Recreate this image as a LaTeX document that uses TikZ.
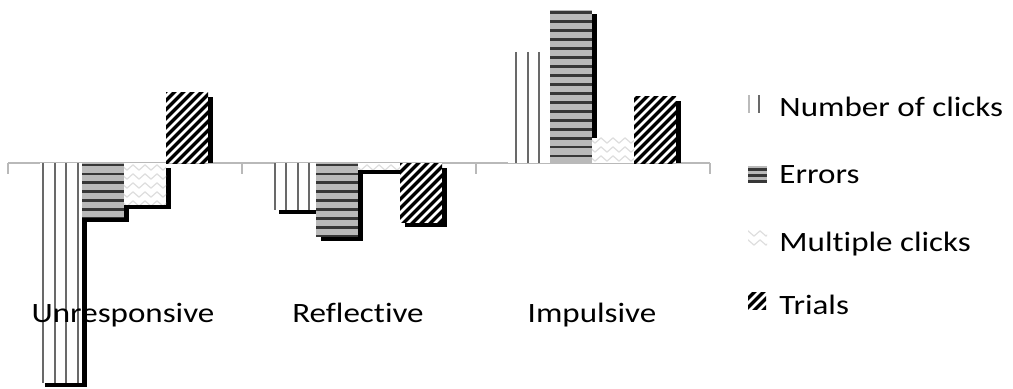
\documentclass[tikz,border=0pt]{standalone}
\usepackage{fontspec}
\setmainfont{Carlito}[Ligatures=NoCommon]
\usetikzlibrary{decorations.pathmorphing}
\definecolor{axisgray}{RGB}{185,185,185}
\definecolor{clickgray}{RGB}{105,105,105}
\definecolor{errfill}{RGB}{185,185,185}
\definecolor{errline}{RGB}{55,55,55}
\definecolor{multigray}{RGB}{222,222,222}

\begin{document}
\begin{tikzpicture}
[x=0.5pt,y=0.5pt,
 txt/.style={font=\fontsize{14}{16}\selectfont,xscale=1.18,inner sep=0pt},
 shadow/.style={fill=black},
 clickline/.style={draw=clickgray,line width=1pt},
 errline/.style={draw=errline,line width=1.4pt},
 multiline/.style={draw=multigray,line width=0.6pt,decorate,
   decoration={zigzag,segment length=6pt,amplitude=1.3pt}},
 trialline/.style={draw=black,line width=1.6pt}]
\useasboundingbox (0,-225.5) rectangle (1013,163.5);

% axis and ticks
\draw[axisgray,line width=1pt] (8,0) -- (710,0);
\foreach \t in {8,242,476,710}
  \draw[axisgray,line width=1pt] (\t,0) -- (\t,-11);

% number of clicks
\foreach \x/\v/\s in {40/-219.5/43, 274/-46.5/274.5, 508/111.5/504.5}{
  \pgfmathsetmacro\top{\v<0 ? -4.5 : 0}
  \fill[shadow] (\x+4.5,\top) rectangle (\x+46.5,\v-4.5);
  \begin{scope}
    \clip (\x,0) rectangle (\x+42,\v);
    \fill[white] (\x,0) rectangle (\x+42,\v);
    \foreach \j in {0,...,4}
      \draw[clickline] (\s+11.5*\j,\v) -- (\s+11.5*\j,0);
  \end{scope}
}

% errors
\foreach \x/\v in {82/-54.5, 316/-73.5, 550/153.5}{
  \pgfmathsetmacro\top{\v<0 ? -4.5 : 0}
  \fill[shadow] (\x+4.5,\top) rectangle (\x+46.5,\v-4.5);
  \begin{scope}
    \clip (\x,0) rectangle (\x+42,\v);
    \fill[errfill] (\x,0) rectangle (\x+42,\v);
    \foreach \k in {-10,...,18}
      \draw[errline] (\x,-1.5+8.95*\k) -- (\x+42,-1.5+8.95*\k);
  \end{scope}
}

% multiple clicks
\foreach \x/\v in {124/-41.5, 358/-6.5, 592/25.5}{
  \pgfmathsetmacro\top{\v<0 ? -4.5 : 0}
  \fill[shadow] (\x+4.5,\top) rectangle (\x+46.5,\v-4.5);
  \begin{scope}
    \clip (\x,0) rectangle (\x+42,\v);
    \fill[white] (\x,0) rectangle (\x+42,\v);
    \foreach \k in {-6,...,4}
      \draw[multiline] (\x-6,-4+9*\k) -- (\x+54,-4+9*\k);
  \end{scope}
}

% trials
\foreach \x/\v in {166/70.5, 400/-59.5, 634/66.5}{
  \pgfmathsetmacro\top{\v<0 ? -4.5 : 0}
  \fill[shadow] (\x+4.5,\top) rectangle (\x+46.5,\v-4.5);
  \begin{scope}
    \clip (\x,0) rectangle (\x+42,\v);
    \fill[white] (\x,0) rectangle (\x+42,\v);
    \foreach \c in {-90,-81,...,135}
      \draw[trialline] (\x+\c-100,-100) -- (\x+\c+100,100);
  \end{scope}
}

% category labels
\node[txt,anchor=base] (unresp) at (123,-159.5) {Unresponsive};
\node[txt,anchor=base] (reflect) at (358,-159.5) {Reflective};
\node[txt,anchor=base] (impuls) at (592,-159.5) {Impulsive};

% legend
\draw[clickline,draw=clickgray!45] (749,50.5) -- (749,68.5);
\draw[clickline] (759,50.5) -- (759,68.5);
\begin{scope}
  \clip (748,-2.5) rectangle (767,-19.5);
  \fill[errfill] (748,-2.5) rectangle (767,-19.5);
  \foreach \k in {0,...,2}
    \draw[errline] (748,-6+-6*\k) -- (767,-6+-6*\k);
\end{scope}
\begin{scope}
  \clip (748,-64.5) rectangle (767,-86.5);
  \foreach \k in {0,1}
    \draw[multiline] (745,-70-9*\k) -- (770,-70-9*\k);
\end{scope}
\begin{scope}
  \clip (748,-129.5) rectangle (766,-146.5);
  \foreach \c in {-30,-21,...,30}
    \draw[trialline] (757+\c-20,-158) -- (757+\c+20,-118);
\end{scope}
\node[txt,anchor=base west] (leg-clicks) at (779,46.8) {Number of clicks};
\node[txt,anchor=base west] (leg-errors) at (779,-20.5) {Errors};
\node[txt,anchor=base west] (leg-multi) at (779,-88.2) {Multiple clicks};
\node[txt,anchor=base west] (leg-trials) at (779,-150.8) {Trials};
\end{tikzpicture}
\end{document}
